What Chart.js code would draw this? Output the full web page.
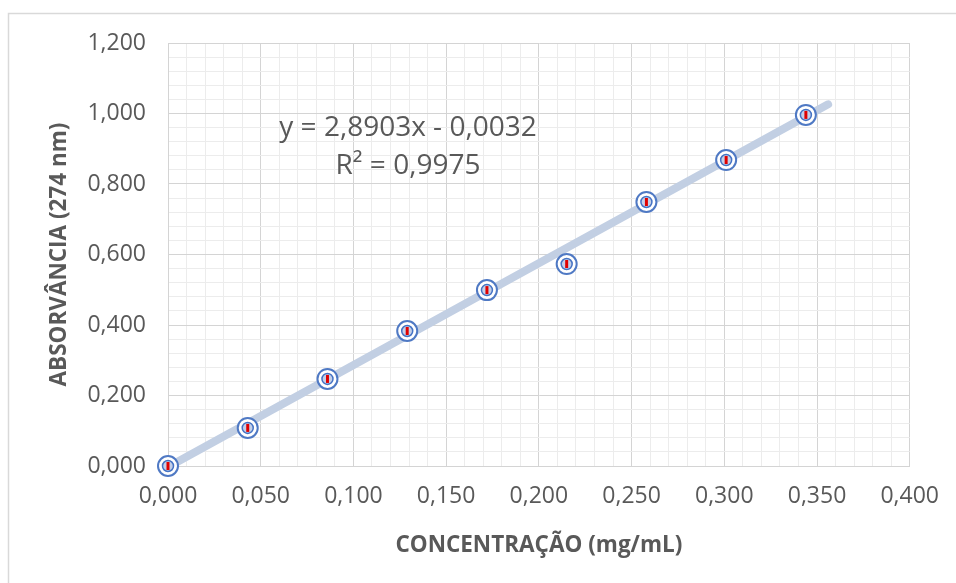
<!DOCTYPE html>
<html>
<head>
<meta charset="utf-8">
<script src="https://cdn.jsdelivr.net/npm/chart.js@4/dist/chart.umd.min.js"></script>
<style>
  html, body { margin: 0; padding: 0; background: #fff; }
  #wrap { width: 956px; height: 583px; }
</style>
</head>
<body>
<div id="wrap"><canvas id="myChart" width="956" height="583"></canvas></div>
<script>
// measured points (concentration mg/mL, absorbance at 274 nm)
var concentracao = [0, 0.043, 0.086, 0.129, 0.172, 0.215, 0.258, 0.301, 0.344];
var absorvancia = [0, 0.108, 0.247, 0.383, 0.499, 0.573, 0.749, 0.868, 0.996];

// linear trendline ends
var trendX = [0, 0.356];
var trendY = [-0.003, 1.026];

var xTickLabels = ["0,000", "0,050", "0,100", "0,150", "0,200", "0,250", "0,300", "0,350", "0,400"];
var yTickLabels = ["0,000", "0,200", "0,400", "0,600", "0,800", "1,000", "1,200"];

var equacao = "y = 2,8903x - 0,0032";
var r2 = "R\u00b2 = 0,9975";

var FONT = "'Open Sans'";
var GREY = "#595959";

function pts(xs, ys) {
  return xs.map(function (x, i) { return { x: x, y: ys[i] }; });
}

var frame = {
  id: "frame",
  beforeDraw: function (chart) {
    var c = chart.ctx;
    c.save();
    c.fillStyle = "#fff";
    c.fillRect(0, 0, chart.width, chart.height);
    c.strokeStyle = "#d9d9d9";
    c.lineWidth = 1.5;
    c.strokeRect(8.5, 13.5, 1000, 700);
    c.restore();
  },
  afterDatasetsDraw: function (chart) {
    var c = chart.ctx;
    c.save();
    c.fillStyle = GREY;
    c.font = "28px " + FONT;
    c.textAlign = "center";
    c.textBaseline = "middle";
    c.fillText(equacao, 408, 128);
    c.fillText(r2, 408, 166);
    c.restore();
  }
};

var ctx = document.getElementById("myChart").getContext("2d");
var myChart = new Chart(ctx, {
  type: "scatter",
  data: {
    datasets: [
      {
        label: "barras",
        data: pts(concentracao, absorvancia),
        pointStyle: "line",
        rotation: 90,
        pointRadius: 4,
        borderColor: "#e00000",
        borderWidth: 3,
        clip: false,
        order: 0,
      },
      {
        label: "interno",
        data: pts(concentracao, absorvancia),
        pointRadius: 5.5,
        borderColor: "#4472c4",
        backgroundColor: "#c3cfe8",
        borderWidth: 1.5,
        clip: false,
        order: 1,
      },
      {
        label: "externo",
        data: pts(concentracao, absorvancia),
        pointRadius: 10,
        borderColor: "#4f79c4",
        backgroundColor: "#ffffff",
        borderWidth: 2,
        clip: false,
        order: 2,
      },
      {
        label: "tendencia",
        type: "line",
        data: pts(trendX, trendY),
        borderColor: "#c2cfe3",
        borderWidth: 8,
        borderCapStyle: "round",
        pointRadius: 0,
        fill: false,
        clip: false,
        order: 3,
      },
    ],
  },
  options: {
    responsive: false,
    animation: false,
    layout: { padding: { left: 0, top: 43, right: 46, bottom: 0 } },
    plugins: { legend: { display: false }, tooltip: { enabled: false } },
    scales: {
      x: {
        type: "linear",
        min: 0,
        max: 0.4,
        afterFit: function (s) { s.height = 117; },
        ticks: {
          stepSize: 0.01,
          autoSkip: false,
          maxRotation: 0,
          padding: 17,
          color: GREY,
          font: { family: FONT, size: 23 },
          callback: function (v, i) { return i % 5 === 0 ? xTickLabels[i / 5] : ""; },
        },
        grid: {
          drawTicks: false,
          color: function (c) { return c.index % 5 === 0 ? "#d4d4d4" : "#ececec"; },
        },
        border: { color: "#d4d4d4" },
        title: {
          display: true,
          text: "CONCENTRAÇÃO (mg/mL)",
          color: GREY,
          font: { family: FONT, size: 22.5, weight: "bold" },
          padding: { top: 0, bottom: 24 },
        },
      },
      y: {
        min: 0,
        max: 1.2,
        afterFit: function (s) { s.width = 168; },
        ticks: {
          stepSize: 0.04,
          autoSkip: false,
          padding: 22,
          color: GREY,
          font: { family: FONT, size: 23 },
          callback: function (v, i) { return i % 5 === 0 ? yTickLabels[i / 5] : ""; },
        },
        grid: {
          drawTicks: false,
          color: function (c) { return c.index % 5 === 0 ? "#d4d4d4" : "#ececec"; },
        },
        border: { color: "#d4d4d4" },
        title: {
          display: true,
          text: "ABSORVÂNCIA (274 nm)",
          color: GREY,
          font: { family: FONT, size: 22.5, weight: "bold" },
          padding: { top: 46, bottom: 0 },
        },
      },
    },
  },
  plugins: [frame],
});
</script>
</body>
</html>
